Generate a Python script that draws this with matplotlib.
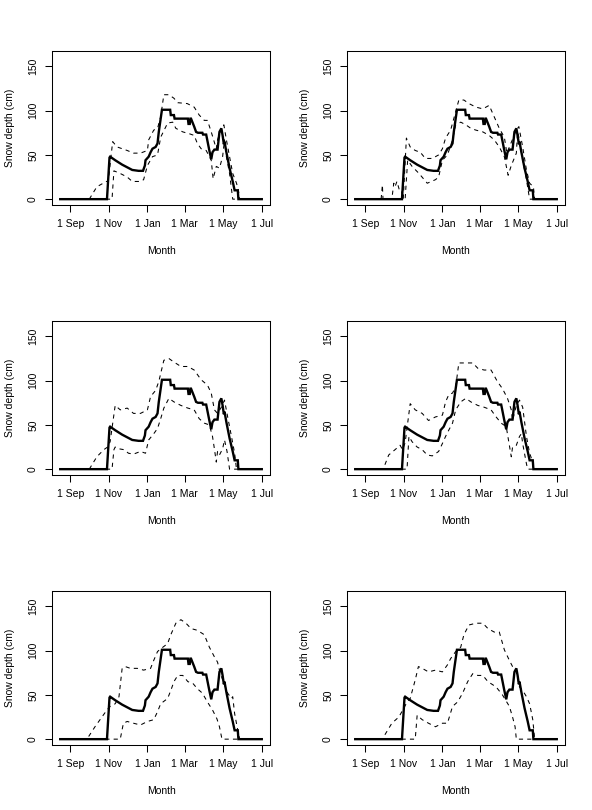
"""
Snow depth through the season: observed (solid) and simulated bounds (dashed)
for six model runs, laid out 3 x 2 like the R original.
"""

import matplotlib
matplotlib.use("Agg")
import matplotlib.pyplot as plt

plt.rcParams["font.family"] = ["Liberation Sans", "DejaVu Sans"]

# ============================================================
# Data (x = days since 1 Aug, y = snow depth in cm)
# ============================================================

month_days = [31, 92, 153, 212, 273, 334]
month_labels = ["1 Sep", "1 Nov", "1 Jan", "1 Mar", "1 May", "1 Jul"]
depth_ticks = [0, 50, 100, 150]

# observed snow depth, identical in every panel
obs_day = [15, 89, 93, 94, 102, 113, 121, 129, 139, 146, 149, 150, 155, 158,
           161, 166, 169, 171, 174, 176, 189, 190, 195, 196, 217, 218, 220,
           221, 222, 227, 230, 233, 240, 241, 246, 251, 254, 256, 259, 264,
           267, 270, 272, 274, 275, 278, 283, 288, 291, 296, 297, 334]
obs_cm = [0, 0, 47, 48, 44, 39, 36, 33, 32, 32, 38, 44, 48, 53,
          57, 59, 63, 76, 91, 101, 101, 95, 95, 91, 91, 85, 85,
          91, 91, 82, 76, 75, 75, 73, 73, 55, 45, 53, 56, 56,
          76, 80, 72, 62, 65, 53, 35, 20, 10, 10, 0, 0]

# run 1
run1_hi_day = [61, 73, 88, 91, 98, 105, 121, 131, 142, 153, 155, 163, 169, 174,
               179, 187, 195, 201, 216, 227, 235, 243, 248, 254, 262, 264, 270,
               274, 278, 283, 288, 294, 297, 299, 305]
run1_hi_cm = [0, 14, 20, 20, 65, 59, 55, 52, 52, 55, 67, 78, 80, 93,
              118, 118, 114, 109, 108, 104, 95, 89, 89, 76, 57, 67, 80,
              84, 67, 48, 29, 18, 10, 0, 0]
run1_lo_day = [61, 97, 100, 110, 121, 129, 142, 147, 153, 161, 169, 174, 185,
               193, 198, 209, 219, 227, 232, 238, 246, 254, 257, 262, 267, 272,
               275, 278, 283, 288, 305]
run1_lo_cm = [0, 0, 32, 29, 25, 20, 20, 22, 38, 48, 50, 70, 86,
              87, 80, 76, 74, 72, 63, 57, 55, 44, 23, 37, 35, 48,
              67, 48, 29, 0, 0]

# run 2
run2_hi_day = [56, 58, 59, 73, 76, 78, 81, 85, 88, 91, 96, 102, 110, 118, 126,
               137, 147, 153, 158, 166, 171, 179, 187, 195, 206, 217, 227, 235,
               243, 251, 255, 259, 270, 274, 280, 286, 291, 297, 299, 305]
run2_hi_cm = [0, 16, 0, 0, 18, 14, 20, 10, 10, 0, 69, 59, 55, 53, 46,
              46, 50, 57, 69, 78, 91, 112, 112, 108, 104, 102, 106, 93,
              80, 70, 52, 59, 78, 82, 59, 33, 18, 14, 0, 0]
run2_lo_day = [56, 94, 98, 105, 116, 129, 142, 147, 153, 161, 169, 174, 182,
               190, 198, 206, 217, 227, 235, 243, 251, 257, 262, 270, 272, 275,
               280, 286, 291, 305]
run2_lo_cm = [0, 0, 44, 37, 29, 18, 22, 25, 44, 50, 67, 84, 87,
              84, 80, 78, 76, 72, 67, 59, 48, 27, 38, 52, 76, 67,
              44, 22, 0, 0]

# run 3
run3_hi_day = [61, 73, 84, 90, 94, 102, 110, 121, 131, 142, 153, 158, 166, 171,
               179, 187, 195, 206, 217, 227, 238, 248, 254, 259, 264, 270, 275,
               280, 286, 291, 294, 305]
run3_hi_cm = [0, 14, 22, 25, 31, 72, 67, 69, 63, 63, 67, 82, 89, 99,
              123, 125, 121, 116, 116, 112, 101, 95, 86, 67, 63, 70, 78,
              59, 37, 18, 0, 0]
run3_lo_day = [61, 97, 100, 102, 108, 116, 123, 131, 142, 150, 155, 163, 169,
               174, 179, 187, 195, 206, 217, 227, 235, 243, 251, 256, 259, 262,
               264, 267, 272, 275, 279, 283, 305]
run3_lo_cm = [0, 0, 22, 25, 23, 22, 18, 17, 20, 18, 33, 40, 46,
              57, 69, 80, 76, 72, 69, 67, 57, 52, 50, 37, 23, 8,
              20, 16, 23, 33, 20, 0, 0]

# run 4
run4_hi_day = [62, 68, 78, 86, 90, 94, 102, 110, 121, 131, 142, 153, 158, 163,
               169, 174, 179, 190, 201, 209, 219, 230, 240, 248, 256, 262, 264,
               270, 275, 280, 286, 291, 295, 297, 305]
run4_hi_cm = [5, 16, 22, 27, 22, 30, 74, 67, 63, 55, 59, 61, 76, 84,
              86, 93, 120, 120, 120, 114, 112, 112, 99, 91, 80, 67, 55,
              72, 78, 70, 37, 18, 10, 0, 0]
run4_lo_day = [62, 97, 100, 105, 113, 121, 129, 137, 147, 153, 158, 163, 169,
               174, 182, 190, 198, 209, 219, 230, 238, 246, 254, 262, 264, 270,
               275, 278, 280, 286, 288, 305]
run4_lo_cm = [0, 0, 37, 31, 25, 22, 16, 15, 20, 29, 37, 44, 52,
              67, 76, 80, 76, 72, 70, 67, 59, 52, 48, 14, 25, 27,
              37, 40, 29, 6, 0, 0]

# run 5
run5_hi_day = [60, 70, 81, 89, 94, 102, 108, 113, 118, 126, 137, 147, 158, 163,
               169, 174, 185, 190, 198, 206, 214, 222, 232, 243, 251, 259, 264,
               267, 272, 280, 286, 288, 291, 296, 299, 305]
run5_hi_cm = [3, 14, 25, 33, 37, 40, 48, 80, 82, 80, 80, 78, 80, 89,
              99, 102, 108, 118, 131, 135, 131, 125, 123, 118, 104, 93, 87,
              78, 67, 52, 46, 48, 29, 10, 0, 0]
run5_lo_day = [60, 110, 115, 121, 131, 142, 153, 163, 169, 174, 185, 190, 195,
               201, 209, 217, 225, 232, 240, 248, 256, 263, 267, 271, 305]
run5_lo_cm = [0, 0, 18, 20, 18, 16, 20, 22, 31, 40, 46, 55, 65,
              72, 72, 65, 63, 57, 52, 42, 33, 23, 14, 0, 0]

# run 6
run6_hi_day = [62, 73, 84, 92, 97, 102, 110, 115, 121, 131, 142, 153, 161, 166,
               174, 182, 187, 195, 206, 217, 225, 235, 243, 251, 259, 264, 270,
               275, 280, 286, 291, 296, 299, 305]
run6_hi_cm = [5, 18, 25, 35, 42, 46, 67, 82, 80, 76, 78, 76, 84, 91,
              99, 104, 118, 129, 131, 131, 125, 121, 121, 101, 89, 82, 76,
              59, 55, 48, 40, 22, 0, 0]
run6_lo_day = [62, 110, 113, 121, 131, 142, 153, 161, 169, 177, 185, 193, 201,
               209, 217, 225, 238, 248, 259, 264, 268, 270, 305]
run6_lo_cm = [0, 0, 27, 22, 18, 14, 18, 18, 37, 42, 52, 65, 74,
              72, 72, 65, 59, 50, 37, 25, 14, 0, 0]

runs = [
    (run1_hi_day, run1_hi_cm, run1_lo_day, run1_lo_cm),
    (run2_hi_day, run2_hi_cm, run2_lo_day, run2_lo_cm),
    (run3_hi_day, run3_hi_cm, run3_lo_day, run3_lo_cm),
    (run4_hi_day, run4_hi_cm, run4_lo_day, run4_lo_cm),
    (run5_hi_day, run5_hi_cm, run5_lo_day, run5_lo_cm),
    (run6_hi_day, run6_hi_cm, run6_lo_day, run6_lo_cm),
]

# ============================================================
# Layout (pixel boxes measured off the original)
# ============================================================

W, H = 592, 810
col_left = [52, 347]
col_width = 218
row_top = [51, 321, 591]
row_height = 154

fig = plt.figure(figsize=(W / 100, H / 100), dpi=100)

for i, (hi_d, hi_v, lo_d, lo_v) in enumerate(runs):
    r, c = divmod(i, 2)
    left = col_left[c] / W
    bottom = 1 - (row_top[r] + row_height) / H
    ax = fig.add_axes([left, bottom, col_width / W, row_height / H])

    ax.plot(obs_day, obs_cm, color="black", lw=1.7, solid_joinstyle="miter")
    ax.plot(hi_d, hi_v, color="black", lw=0.75, linestyle=(0, (4, 4)))
    ax.plot(lo_d, lo_v, color="black", lw=0.75, linestyle=(0, (4, 4)))

    ax.set_xlim(2, 347)
    ax.set_ylim(-6.6, 167.4)
    ax.set_xticks(month_days)
    ax.set_xticklabels(month_labels)
    ax.set_yticks(depth_ticks)
    ax.set_yticklabels([str(t) for t in depth_ticks], rotation=90, va="center")
    ax.tick_params(direction="out", length=5, width=0.75, labelsize=7.5, pad=5)

    for sp in ax.spines.values():
        sp.set_linewidth(0.75)

    ax.set_xlabel("Month", fontsize=7.5)
    ax.set_ylabel("Snow depth (cm)", fontsize=7.5)
    ax.xaxis.set_label_coords(0.5, -0.265)
    ax.yaxis.set_label_coords(-0.17, 0.5)

fig.savefig("out.png", dpi=100)
